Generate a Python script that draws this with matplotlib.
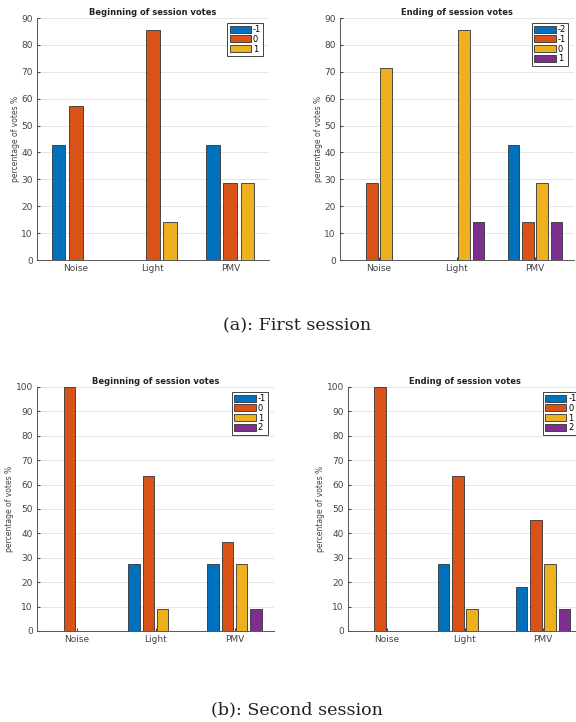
import numpy as np
import matplotlib
matplotlib.use('Agg')
import matplotlib.pyplot as plt

# ── Datos ─────────────────────────────────────────────────────────────────────
categories = ['Noise', 'Light', 'PMV']

s1_begin_labels = ['-1', '0', '1']
s1_begin = [
    [42.86, 0.0, 42.86],    # -1
    [57.14, 85.71, 28.57],  # 0
    [0.0, 14.29, 28.57],    # 1
]

s1_end_labels = ['-2', '-1', '0', '1']
s1_end = [
    [0.0, 0.0, 42.86],      # -2
    [28.57, 0.0, 14.29],    # -1
    [71.43, 85.71, 28.57],  # 0
    [0.0, 14.29, 14.29],    # 1
]

s2_begin_labels = ['-1', '0', '1', '2']
s2_begin = [
    [0.0, 27.27, 27.27],
    [100.0, 63.64, 36.36],
    [0.0, 9.09, 27.27],
    [0.0, 0.0, 9.09],
]

s2_end_labels = ['-1', '0', '1', '2']
s2_end = [
    [0.0, 27.27, 18.18],
    [100.0, 63.64, 45.45],
    [0.0, 9.09, 27.27],
    [0.0, 0.0, 9.09],
]

COLORS = ['#0072BD', '#D95319', '#EDB120', '#7E2F8E']
W, H = 576, 722


def rect(left, right, top, bottom):
    return [left / W, 1 - bottom / H, (right - left) / W, (bottom - top) / H]


def grouped_bars(ax, series, labels, ymax, title, leg_anchor):
    n = len(series)
    group_w = min(0.8, n / (n + 1.5))
    step = group_w / n
    x = np.arange(1, len(categories) + 1)
    for i, vals in enumerate(series):
        off = (i - (n - 1) / 2) * step
        ax.bar(x + off, vals, step * 0.8, color=COLORS[i], edgecolor='#333333',
               linewidth=0.6, label=labels[i], zorder=3)
    ax.set_xlim(0.5, 3.5)
    ax.set_ylim(0, ymax)
    ax.set_yticks(np.arange(0, ymax + 1, 10))
    ax.set_xticks(x)
    ax.set_xticklabels(categories)
    ax.tick_params(colors='#444444', labelsize=6.5, length=2, direction='in', pad=3)
    ax.grid(axis='y', color='#e6e6e6', linewidth=0.7, zorder=0)
    for s in ('top', 'right'):
        ax.spines[s].set_visible(False)
    for s in ('left', 'bottom'):
        ax.spines[s].set_color('#555555')
        ax.spines[s].set_linewidth(0.7)
    ax.set_ylabel('percentage of votes %', fontsize=5.5, color='#444444', labelpad=1)
    ax.set_title(title, fontsize=6, fontweight='bold', color='#222222', pad=2)
    leg = ax.legend(loc='upper right', bbox_to_anchor=leg_anchor, fontsize=6,
                    handlelength=2.6, handleheight=0.9, handletextpad=0.2,
                    borderpad=0.25, labelspacing=0.1, borderaxespad=0,
                    fancybox=False, framealpha=1)
    leg.get_frame().set_edgecolor('#444444')
    leg.get_frame().set_linewidth(0.7)


fig = plt.figure(figsize=(W / 100, H / 100), dpi=100)

ax1 = fig.add_axes(rect(37, 269, 18, 260))
grouped_bars(ax1, s1_begin, s1_begin_labels, 90, 'Beginning of session votes', (0.975, 0.98))

ax2 = fig.add_axes(rect(340, 574, 18, 260))
grouped_bars(ax2, s1_end, s1_end_labels, 90, 'Ending of session votes', (0.975, 0.98))

ax3 = fig.add_axes(rect(37, 274, 387, 631))
grouped_bars(ax3, s2_begin, s2_begin_labels, 100, 'Beginning of session votes', (0.975, 0.98))

# the right panel runs slightly past the page edge
ax4 = fig.add_axes(rect(348, 582, 387, 631))
grouped_bars(ax4, s2_end, s2_end_labels, 100, 'Ending of session votes', (0.985, 0.98))

fig.text(297 / W, 1 - 326 / H, '(a): First session', ha='center', va='center',
         fontsize=12.6, family='DejaVu Serif', color='#222222')
fig.text(297 / W, 1 - 710 / H, '(b): Second session', ha='center', va='center',
         fontsize=12.6, family='DejaVu Serif', color='#222222')

fig.savefig('out.png', dpi=100)
